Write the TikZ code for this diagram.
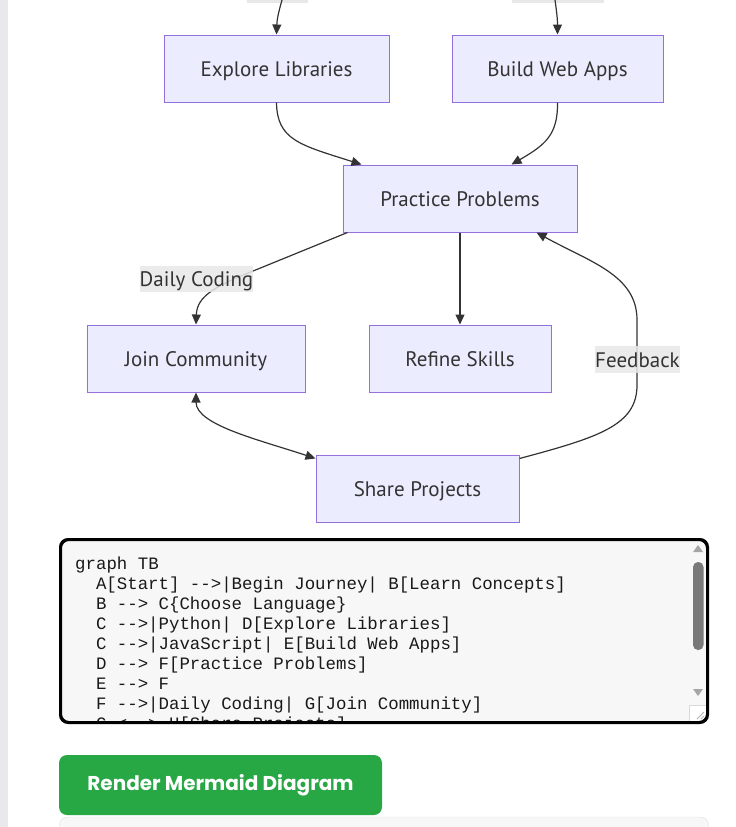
\documentclass[tikz,border=0pt]{standalone}
\usepackage{fontspec}
\setmainfont{PT Sans}
\newfontfamily\codefont{Liberation Mono}
\newfontfamily\btnfont{Poppins}
\usetikzlibrary{arrows.meta,calc}
\definecolor{nodefill}{HTML}{ECECFF}
\definecolor{nodeborder}{HTML}{9370DB}
\definecolor{ink}{HTML}{333333}
\definecolor{lblbg}{HTML}{E8E8E8}
\definecolor{btngreen}{HTML}{28A745}
\definecolor{sidebar}{HTML}{E9E9EC}
\tikzset{
  flownode/.style={draw=nodeborder, fill=nodefill, line width=1pt, text=ink,
    font=\fontsize{21}{23}\selectfont, inner sep=0pt, anchor=center,
    text height=17pt, text depth=2pt},
  edge/.style={draw=ink, line width=1.2pt, -{Triangle[length=10pt,width=9pt]}},
  biedge/.style={draw=ink, line width=1.2pt, {Triangle[length=10pt,width=9pt]}-{Triangle[length=10pt,width=9pt]}},
  elabel/.style={fill=lblbg, fill opacity=0.85, text opacity=1, text=ink,
    font=\fontsize{21}{23}\selectfont, inner sep=0pt, anchor=center,
    text height=17pt, text depth=2pt},
  codeline/.style={anchor=base west, inner sep=0pt, text=black!90,
    font=\codefont\fontsize{17.4}{20}\selectfont},
}
\begin{document}
\begin{tikzpicture}[x=1pt,y=-1pt]
\useasboundingbox (0,0) rectangle (736,827);
% sidebar
\fill[sidebar] (0,0) rectangle (8,827);

% cut-off labels at top
\fill[lblbg] (247,0) rectangle (308,3);
\fill[lblbg] (512,0) rectangle (604,3);

% nodes
\node[flownode, minimum width=225pt, minimum height=67pt] (D) at (276.5,68.5) {Explore Libraries};
\node[flownode, minimum width=211pt, minimum height=67pt] (E) at (557.5,68.5) {Build Web Apps};
\node[flownode, minimum width=234pt, minimum height=67pt] (F) at (460,198.5) {Practice Problems};
\node[flownode, minimum width=218pt, minimum height=67pt] (G) at (196,358.5) {Join Community};
\node[flownode, minimum width=182pt, minimum height=67pt] (R) at (460,358.5) {Refine Skills};
\node[flownode, minimum width=203pt, minimum height=67pt] (H) at (417.5,488.5) {Share Projects};

% top edge stubs
\coordinate (pyl) at (282,0);
\coordinate (jsl) at (555,0);
\draw[edge] (pyl) .. controls (278,14) and (277,20) .. (D.north);
\draw[edge] (jsl) .. controls (557,14) and (557.5,20) .. (E.north);

% D -> F, E -> F
\draw[edge] (D.south) .. controls (277,140) and (300,145) .. ([xshift=19pt]F.north west);
\draw[edge] (E.south) .. controls (558,135) and (545,145) .. ([xshift=169pt]F.north west);

% F -> G (Daily Coding)
\draw[edge] ([xshift=5pt]F.south west) -- (258,269) .. controls (215,286) and (197,296) .. (G.north);
\node[elabel, minimum width=111pt, minimum height=26pt] (lDaily) at (196.5,279) {Daily Coding};

% F -> R
\draw[edge] (F.south) -- (R.north);

% G <-> H
\draw[biedge] (G.south) .. controls (196,425) and (260,440) .. ([yshift=-4pt]H.north west);

% H -> F (Feedback)
\draw[edge] ([yshift=-4pt]H.north east) .. controls (600,437) and (637,425) .. (637,385)
  -- (637,320) .. controls (637,275) and (590,262) .. ([xshift=-41pt]F.south east);
\node[elabel, minimum width=85pt, minimum height=27pt] (lFeed) at (637.5,359.5) {Feedback};

% code box
\node[draw=black, line width=2pt, fill=white!97!black, rounded corners=8pt,
  minimum width=648pt, minimum height=184pt, inner sep=0pt] (code) at (384,631) {};
\begin{scope}
\clip[rounded corners=7pt] (61,540) rectangle (707,722);
\fill[white!97!black] (61,540) rectangle (707,722);
\node[codeline] (c0) at (75,569) {graph TB};
\node[codeline] (c1) at (95.8,589) {A[Start] -->|Begin Journey| B[Learn Concepts]};
\node[codeline] (c2) at (95.8,609) {B --> C\{Choose Language\}};
\node[codeline] (c3) at (95.8,629) {C -->|Python| D[Explore Libraries]};
\node[codeline] (c4) at (95.8,649) {C -->|JavaScript| E[Build Web Apps]};
\node[codeline] (c5) at (95.8,669) {D --> F[Practice Problems]};
\node[codeline] (c6) at (95.8,689) {E --> F};
\node[codeline] (c7) at (95.8,709) {F -->|Daily Coding| G[Join Community]};
\node[codeline] (c8) at (95.8,729) {G <--> H[Share Projects]};
% scrollbar
\fill[white!97!black] (689,541) rectangle (706,705);
\fill[gray!70] (693,552) -- (703,552) -- (698,545) -- cycle;
\fill[gray!95!black, rounded corners=5pt] (693,562) rectangle (703.5,650);
\fill[gray!70] (693,689) -- (703,689) -- (698,696) -- cycle;
\draw[gray!30, fill=white] (689,705) rectangle (708,724);
\draw[gray!60, line width=0.8pt] (697,719) -- (704,712);
\draw[gray!60, line width=0.8pt] (701,719) -- (704,716);
\end{scope}
\draw[black, line width=2pt, rounded corners=8pt] (61,540) rectangle (707,722);

% button
\node[fill=btngreen, rounded corners=8pt, minimum width=323pt, minimum height=60pt,
  inner sep=0pt, text=white, font=\btnfont\bfseries\fontsize{20}{22}\selectfont] (btn) at (220.5,785) {Render Mermaid Diagram};

% next panel (cut off)
\draw[gray!25, fill=white!97!black, rounded corners=8pt] (59.5,817) rectangle (708.5,860);
\end{tikzpicture}
\end{document}
